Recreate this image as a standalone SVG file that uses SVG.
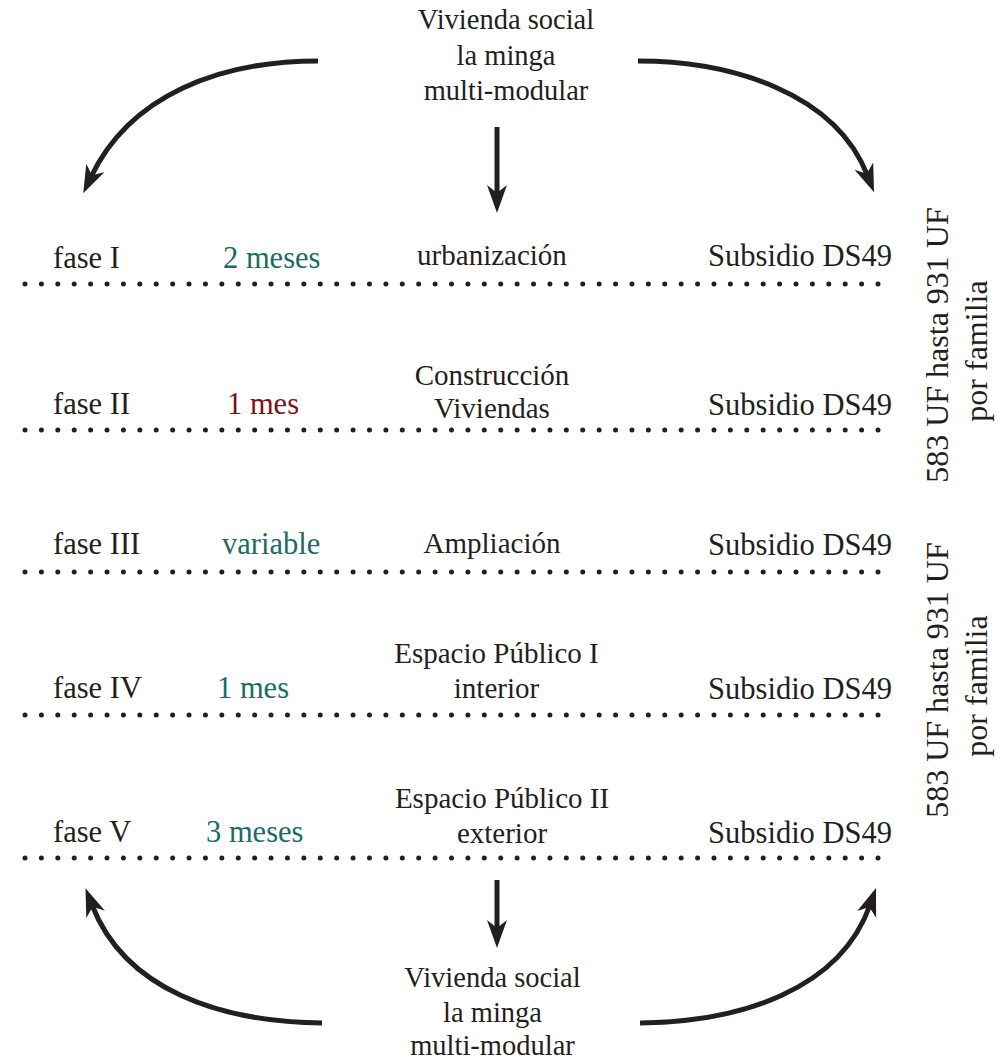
<svg xmlns="http://www.w3.org/2000/svg" width="1007" height="1060" viewBox="0 0 1007 1060">
  <style>
    text { font-family: "Liberation Serif", "Times New Roman", serif; fill: #231f20; }
    .lbl { font-size: 30.5px; }
    .mid { font-size: 29px; text-anchor: middle; }
    .ttl { font-size: 28.5px; text-anchor: middle; }
    .sub { font-size: 30.5px; text-anchor: end; }
    .vert { font-size: 32px; text-anchor: middle; }
    .teal { fill: #1b6c66; }
    .red { fill: #7d1416; }
    .dots { stroke: #231f20; stroke-width: 5; stroke-linecap: round; stroke-dasharray: 0 16.404; fill: none; }
    .arc { stroke: #231f20; stroke-width: 5; fill: none; marker-end: url(#head); }
  </style>
  <defs>
    <!-- barbed arrowhead, tip 18px beyond the path end -->
    <marker id="head" markerUnits="userSpaceOnUse" markerWidth="28" markerHeight="20" refX="10" refY="10" orient="auto" overflow="visible">
      <path d="M0,0 L28,10 L0,20 L8,10 Z" fill="#231f20"/>
    </marker>
  </defs>

  <rect width="1007" height="1060" fill="#ffffff"/>

  <!-- source label, top -->
  <g id="top-label">
    <text class="ttl" x="506" y="29">Vivienda social</text>
    <text class="ttl" x="506" y="65">la minga</text>
    <text class="ttl" x="506" y="100">multi-modular</text>
  </g>

  <!-- phase rows -->
  <g id="fase-1">
    <text class="lbl" x="53" y="268">fase I</text>
    <text class="lbl teal" x="223" y="268">2 meses</text>
    <text class="mid" x="492" y="265">urbanización</text>
    <text class="sub" x="892" y="266">Subsidio DS49</text>
    <line class="dots" x1="25" y1="284" x2="880" y2="284"/>
  </g>
  <g id="fase-2">
    <text class="lbl" x="53" y="414">fase II</text>
    <text class="lbl red" x="227" y="414">1 mes</text>
    <text class="mid" x="492" y="385">Construcción</text>
    <text class="mid" x="492" y="418">Viviendas</text>
    <text class="sub" x="892" y="415">Subsidio DS49</text>
    <line class="dots" x1="25" y1="430" x2="880" y2="430"/>
  </g>
  <g id="fase-3">
    <text class="lbl" x="53" y="554">fase III</text>
    <text class="lbl teal" x="222" y="554">variable</text>
    <text class="mid" x="492" y="553">Ampliación</text>
    <text class="sub" x="892" y="555">Subsidio DS49</text>
    <line class="dots" x1="25" y1="572" x2="880" y2="572"/>
  </g>
  <g id="fase-4">
    <text class="lbl" x="53" y="698">fase IV</text>
    <text class="lbl teal" x="217" y="698">1 mes</text>
    <text class="mid" x="496.5" y="663">Espacio Público I</text>
    <text class="mid" x="496.5" y="698">interior</text>
    <text class="sub" x="892" y="699">Subsidio DS49</text>
    <line class="dots" x1="25" y1="715" x2="880" y2="715"/>
  </g>
  <g id="fase-5">
    <text class="lbl" x="53" y="842">fase V</text>
    <text class="lbl teal" x="206" y="842">3 meses</text>
    <text class="mid" x="502" y="808">Espacio Público II</text>
    <text class="mid" x="502" y="843">exterior</text>
    <text class="sub" x="892" y="843">Subsidio DS49</text>
    <line class="dots" x1="25" y1="858" x2="880" y2="858"/>
  </g>

  <!-- subsidy amount notes, set vertically -->
  <g id="monto-1">
    <text class="vert" transform="translate(948,345) rotate(-90)">583 UF hasta 931 UF</text>
    <text class="vert" transform="translate(987,351) rotate(-90)">por familia</text>
  </g>
  <g id="monto-2">
    <text class="vert" transform="translate(948,680) rotate(-90)">583 UF hasta 931 UF</text>
    <text class="vert" transform="translate(987,686) rotate(-90)">por familia</text>
  </g>

  <!-- source label, bottom -->
  <g id="bottom-label">
    <text class="ttl" x="492.5" y="987">Vivienda social</text>
    <text class="ttl" x="492.5" y="1022">la minga</text>
    <text class="ttl" x="492.5" y="1055">multi-modular</text>
  </g>

  <!-- connectors -->
  <g id="connectors">
    <path class="arc" d="M318,61 C220,61 130,95 91,177"/>
    <path class="arc" d="M638,61 C730,61 835,92 867.5,175.5"/>
    <path class="arc" d="M497,127 L497,195"/>
    <path class="arc" d="M322,1023 C220,1022 125,990 92,905"/>
    <path class="arc" d="M640,1023 C740,1022 840,990 870,905"/>
    <path class="arc" d="M497,880 L497,930"/>
  </g>
</svg>
